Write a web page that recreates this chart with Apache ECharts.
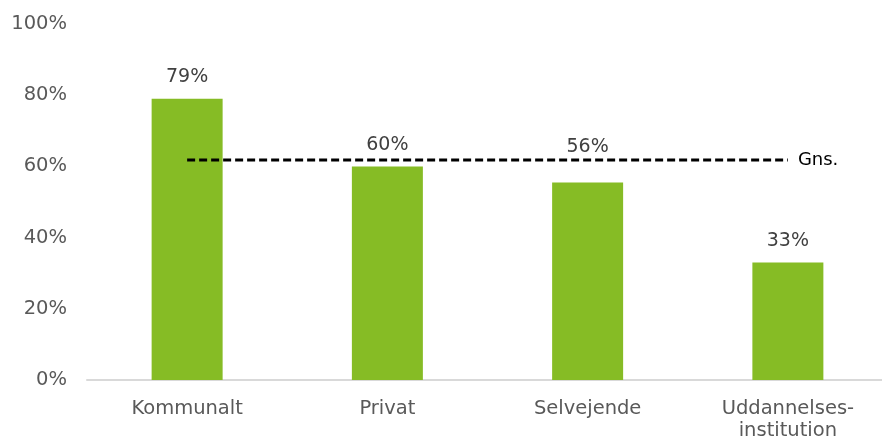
<!DOCTYPE html>
<html>
<head>
<meta charset="utf-8">
<script src="https://cdn.jsdelivr.net/npm/echarts@6/dist/echarts.min.js"></script>
<style>
html,body{margin:0;padding:0;background:#fff;}
#c{width:882px;height:438px;}
</style>
</head>
<body>
<div id="c"></div>
<script>
const categories = ['Kommunalt', 'Privat', 'Selvejende', 'Uddannelses-\ninstitution'];
const values = [79, 60, 55.5, 33];
const labels = ['79%', '60%', '56%', '33%'];
const avgValue = 61.8;
const avgLabel = 'Gns.';
const yTicks = [0, 20, 40, 60, 80, 100];

const FONT = 'DejaVu Sans';
const chart = echarts.init(document.getElementById('c'));
const labelDistances = [12, 12, 26, 12];

chart.setOption({
  animation: false,
  grid: { left: 87, width: 801, top: 24, bottom: 58, containLabel: false, outerBoundsMode: 'none' },
  xAxis: {
    type: 'category',
    data: categories,
    axisLine: { show: true, lineStyle: { color: '#d9d9d9', width: 2 } },
    axisTick: { show: false },
    axisLabel: { color: '#595959', fontFamily: FONT, fontSize: 19.5, margin: 18, lineHeight: 22 }
  },
  yAxis: {
    type: 'value',
    min: yTicks[0],
    max: yTicks[yTicks.length - 1],
    interval: 20,
    splitLine: { show: false },
    axisLine: { show: false },
    axisTick: { show: false },
    axisLabel: { color: '#595959', fontFamily: FONT, fontSize: 19.5, margin: 20, padding: [3, 0, 0, 0], formatter: v => v + '%' }
  },
  series: [
    {
      type: 'bar',
      barWidth: 71,
      data: values.map((v, i) => ({
        value: v,
        label: { show: true, position: 'top', distance: labelDistances[i], formatter: labels[i] }
      })),
      itemStyle: { color: '#86BC25' },
      label: { color: '#404040', fontFamily: FONT, fontSize: 19 }
    },
    {
      type: 'line',
      data: categories.map(() => avgValue),
      symbol: 'none',
      lineStyle: { color: '#000', width: 3, type: [8, 4] },
      endLabel: { show: true, formatter: avgLabel, color: '#000', fontFamily: FONT, fontSize: 18, distance: 10 },
      z: 5
    }
  ]
});
</script>
</body>
</html>
